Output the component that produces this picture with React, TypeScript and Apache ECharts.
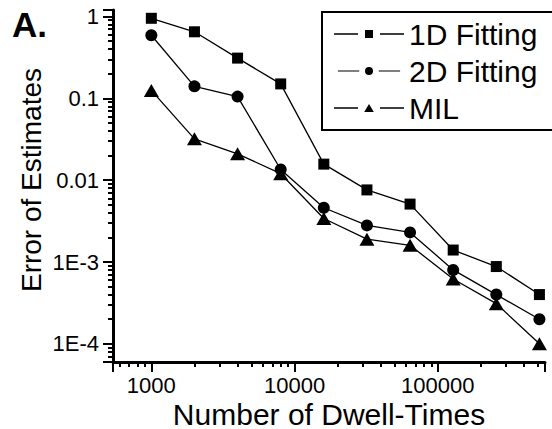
import React, { useEffect, useRef } from "react";
import * as echarts from "echarts";

const dwellTimes = [1000, 2000, 4000, 8000, 16000, 32000, 64000, 128000, 256000, 512000];
const fit1D = [0.95, 0.65, 0.31, 0.15, 0.0157, 0.0076, 0.0051, 0.0014, 0.00088, 0.0004];
const fit2D = [0.59, 0.14, 0.105, 0.0135, 0.0046, 0.0028, 0.0023, 0.0008, 0.0004, 0.0002];
const mil = [0.125, 0.032, 0.021, 0.012, 0.0034, 0.0019, 0.0016, 0.00062, 0.00031, 0.0001];
const seriesNames = ["1D Fitting", "2D Fitting", "MIL"];
const xTicks = [1000, 10000, 100000];
const yTicks = [0.0001, 0.001, 0.01, 0.1, 1];
const yTickLabels: Record<string, string> = {
  "1": "1",
  "0.1": "0.1",
  "0.01": "0.01",
  "0.001": "1E-3",
  "0.0001": "1E-4",
};

const FONT = "Liberation Sans, Arial, sans-serif";

const legendIcons = [
  "path://M0,3.3H24V4.7H0Z M31,0H39V8H31Z M46,3.3H70V4.7H46Z",
  "path://M0,3.3H24V4.7H0Z M30.5,4A4.5,4.5,0,1,1,39.5,4A4.5,4.5,0,1,1,30.5,4Z M46,3.3H70V4.7H46Z",
  "path://M0,3.3H24V4.7H0Z M35,0L39.8,8H30.2Z M46,3.3H70V4.7H46Z",
];

export default function App() {
  const ref = useRef<HTMLDivElement>(null);
  useEffect(() => {
    if (!ref.current) return;
    const chart = echarts.init(ref.current, null, { renderer: "svg" });
    const mk = (name: string, vals: number[], symbol: string, size: any) => ({
      name,
      type: "line",
      data: dwellTimes.map((x, i) => [x, vals[i]]),
      symbol,
      symbolSize: size,
      showAllSymbol: true,
      lineStyle: { color: "#000", width: 1.3 },
      itemStyle: { color: "#000", borderWidth: 0 },
      z: 3,
    });
    chart.setOption({
      animation: false,
      backgroundColor: "#fff",
      textStyle: { fontFamily: FONT },
      title: {
        text: "A.",
        left: 12,
        top: 7,
        padding: 0,
        textStyle: { fontSize: 35, fontWeight: "bold", fontFamily: FONT, color: "#000" },
      },
      grid: { left: 113, right: 7, top: 10, bottom: 67, containLabel: false },
      legend: {
        orient: "vertical",
        left: 322,
        top: 12,
        itemWidth: 70,
        itemHeight: 8,
        itemGap: 1,
        padding: [4, 4, 5, 12],
        borderWidth: 0,
        itemStyle: { borderWidth: 0 },
        textStyle: { fontSize: 30, fontFamily: FONT, color: "#000", lineHeight: 36 },
        data: seriesNames.map((n, i) => ({ name: n, icon: legendIcons[i] })),
      },
      xAxis: {
        type: "log",
        min: 540,
        max: 560000,
        axisLine: { lineStyle: { color: "#000", width: 3 } },
        axisTick: { show: true, length: 10, lineStyle: { color: "#000", width: 2 } },
        minorTick: { show: true, splitNumber: 9, length: 5, lineStyle: { color: "#000", width: 2 } },
        axisLabel: {
          customValues: xTicks,
          margin: 12,
          fontSize: 22,
          fontFamily: FONT,
          color: "#000",
          formatter: (v: number) => String(Math.round(v)),
        },
        splitLine: { show: false },
        minorSplitLine: { show: false },
      },
      yAxis: {
        type: "log",
        min: 6e-5,
        max: 1.2,
        axisLine: { show: true, lineStyle: { color: "#000", width: 3 } },
        axisTick: { show: true, length: 10, lineStyle: { color: "#000", width: 2 } },
        minorTick: { show: true, splitNumber: 9, length: 5, lineStyle: { color: "#000", width: 2 } },
        axisLabel: {
          customValues: yTicks,
          margin: 14,
          fontSize: 22,
          fontFamily: FONT,
          color: "#000",
          formatter: (v: number) => {
            const k = String(Number(v.toPrecision(3)));
            return yTickLabels[k] ?? k;
          },
        },
        splitLine: { show: false },
        minorSplitLine: { show: false },
      },
      graphic: [
        {
          type: "rect",
          z: 100,
          shape: { x: 322, y: 12, width: 250, height: 118 },
          style: { fill: "none", stroke: "#000", lineWidth: 2 },
        },
        {
          type: "text",
          x: 329,
          y: 414,
          style: {
            text: "Number of Dwell-Times",
            fontSize: 30,
            fontFamily: FONT,
            fill: "#000",
            textAlign: "center",
            textVerticalAlign: "middle",
          },
        },
        {
          type: "text",
          x: 31,
          y: 180,
          rotation: Math.PI / 2,
          style: {
            text: "Error of Estimates",
            fontSize: 28,
            fontFamily: FONT,
            fill: "#000",
            textAlign: "center",
            textVerticalAlign: "middle",
          },
        },
      ],
      series: [
        mk(seriesNames[0], fit1D, "rect", 11),
        mk(seriesNames[1], fit2D, "circle", 12),
        mk(seriesNames[2], mil, "triangle", [15, 13]),
      ],
    });
    return () => chart.dispose();
  }, []);
  return (
    <div
      ref={ref}
      style={{ position: "fixed", left: 0, top: 0, width: 552, height: 429, background: "#fff" }}
    />
  );
}
